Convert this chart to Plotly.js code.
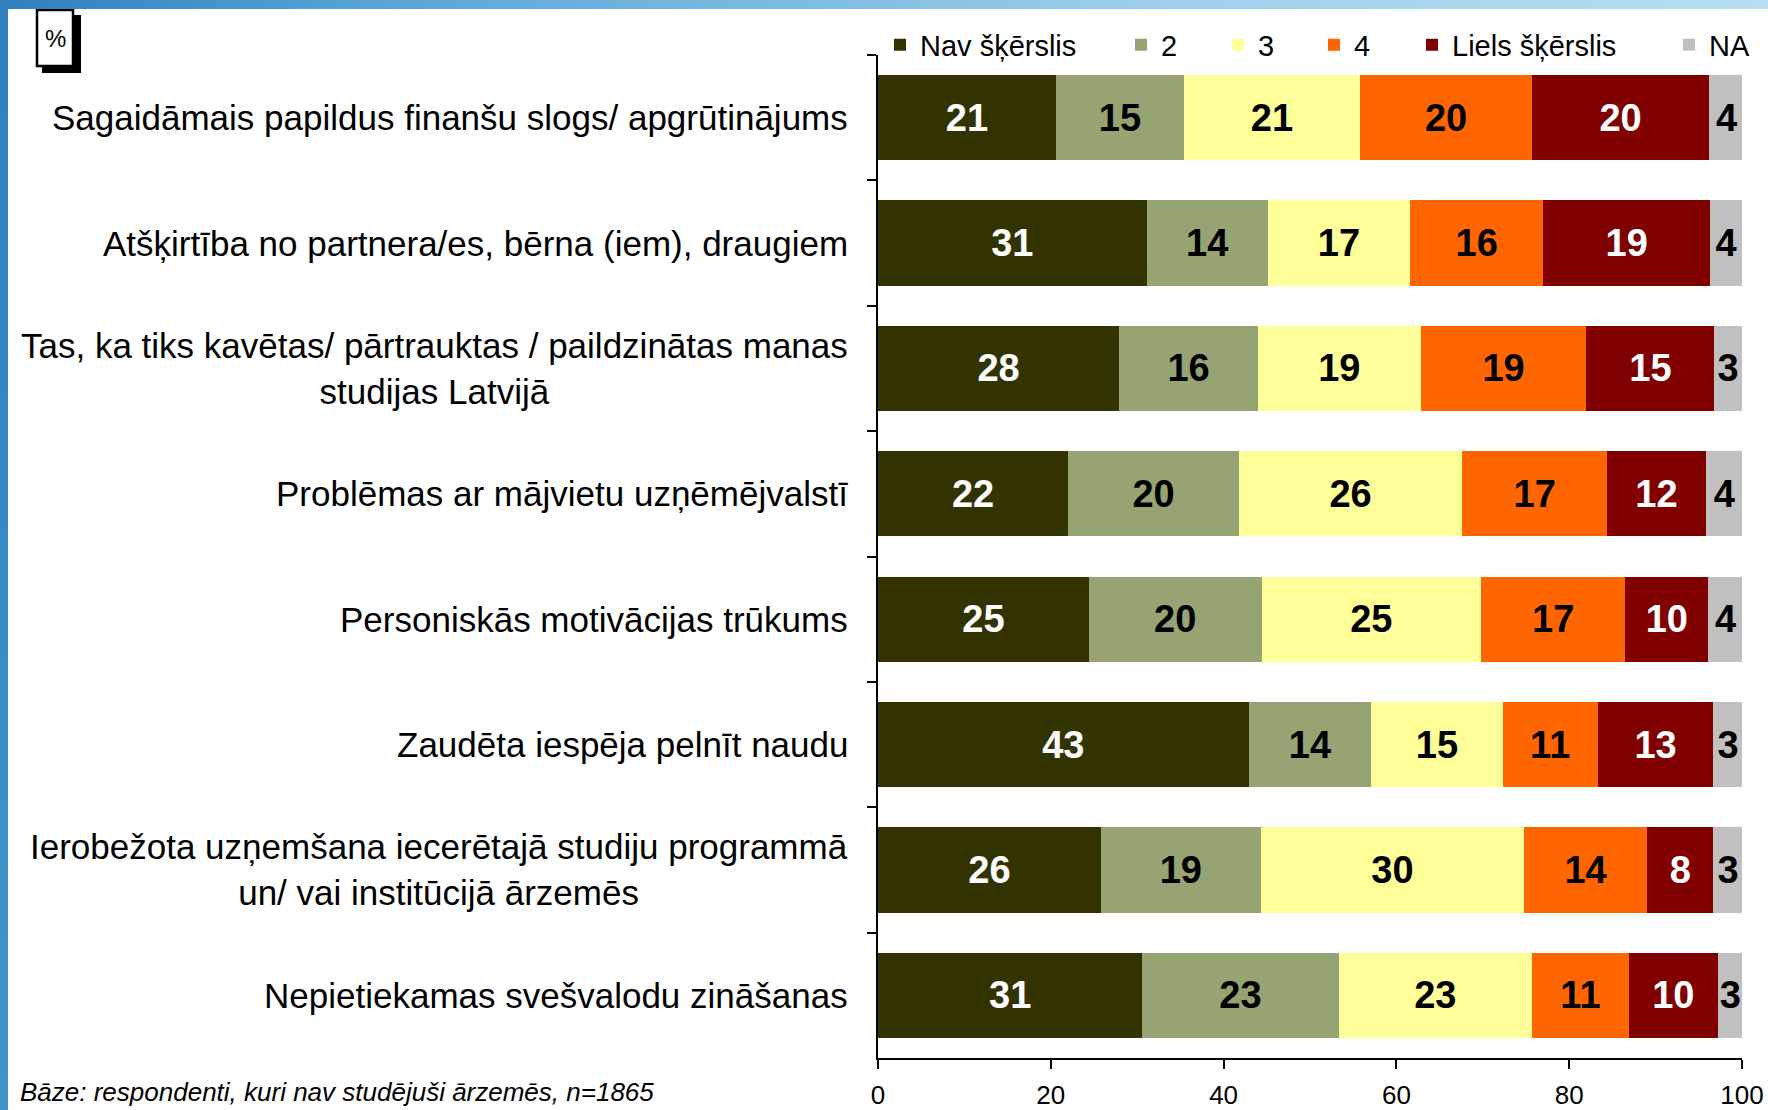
<!DOCTYPE html>
<html>
<head>
<meta charset="utf-8">
<script src="https://cdn.plot.ly/plotly-3.0.1.min.js"></script>
<style>
  html, body { margin: 0; padding: 0; }
  body {
    width: 1768px; height: 1110px; overflow: hidden; position: relative;
    background: linear-gradient(100deg, #2f7fbf 0%, #5aa6d8 20%, #9fd0ec 60%, #bfe2f4 100%);
  }
  #chart { position: absolute; left: 8px; top: 9px; width: 1760px; height: 1101px; background: #fff; }
</style>
</head>
<body>
<div id="chart"></div>
<script>
// ---- data ----
var categories = [
  "Sagaidāmais papildus finanšu slogs/ apgrūtinājums",
  "Atšķirtība no partnera/es, bērna (iem), draugiem",
  "Tas, ka tiks kavētas/ pārtrauktas / paildzinātas manas<br>studijas Latvijā",
  "Problēmas ar mājvietu uzņēmējvalstī",
  "Personiskās motivācijas trūkums",
  "Zaudēta iespēja pelnīt naudu",
  "Ierobežota uzņemšana iecerētajā studiju programmā<br>un/ vai institūcijā ārzemēs",
  "Nepietiekamas svešvalodu zināšanas"
];
var seriesNames = ["Nav šķērslis", "2", "3", "4", "Liels šķērslis", "NA"];
// segment widths (%)
var navSkerslis   = [20.6, 31.1, 27.9, 22.0, 24.4, 42.9, 25.8, 30.6];
var val2          = [14.8, 14.0, 16.1, 19.8, 20.0, 14.2, 18.5, 22.7];
var val3          = [20.4, 16.5, 18.8, 25.8, 25.4, 15.2, 30.5, 22.4];
var val4          = [19.9, 15.4, 19.2, 16.8, 16.7, 11.0, 14.2, 11.2];
var lielsSkerslis = [20.5, 19.3, 14.8, 11.4,  9.6, 13.4,  7.7, 10.3];
var valNA         = [ 4.0,  3.7,  3.2,  4.3,  4.0,  3.4,  3.4,  2.9];
// labels as printed on the bars
var lblNav   = [21, 31, 28, 22, 25, 43, 26, 31];
var lbl2     = [15, 14, 16, 20, 20, 14, 19, 23];
var lbl3     = [21, 17, 19, 26, 25, 15, 30, 23];
var lbl4     = [20, 16, 19, 17, 17, 11, 14, 11];
var lblLiels = [20, 19, 15, 12, 10, 13,  8, 10];
var lblNA    = [ 4,  4,  3,  4,  4,  3,  3,  3];
var xTicks = [0, 20, 40, 60, 80, 100];
var baseNote = "Bāze: respondenti, kuri nav studējuši ārzemēs, n=1865";

var colors = ["#333300", "#95A472", "#FFFF99", "#FF6600", "#800000", "#C0C0C0"];
var textColors = ["#ffffff", "#000000", "#000000", "#000000", "#ffffff", "#000000"];
var values = [navSkerslis, val2, val3, val4, lielsSkerslis, valNA];
var labels = [lblNav, lbl2, lbl3, lbl4, lblLiels, lblNA];

var NARROW = "'Liberation Sans Narrow', 'Arial Narrow', 'Liberation Sans', Arial, sans-serif";

// ---- geometry (px within the chart div) ----
var W = 1760, H = 1101;
var M = {l: 870, r: 26, t: 45, b: 52};
var PW = W - M.l - M.r, PH = H - M.t - M.b;
function px2x(p) { return (p - M.l) / PW; }
function px2y(p) { return (H - M.b - p) / PH; }

var legendNames = ["legend", "legend2", "legend3", "legend4", "legend5", "legend6"];
var legendTextStart = [912, 1153, 1250, 1346, 1444, 1701];

var traces = [];
for (var i = 0; i < 6; i++) {
  traces.push({
    type: "bar",
    orientation: "h",
    name: seriesNames[i],
    y: categories,
    x: values[i],
    text: labels[i].map(String),
    texttemplate: "%{text}",
    textposition: "inside",
    insidetextanchor: "middle",
    constraintext: "none",
    textangle: 0,
    textfont: {family: NARROW, size: 38, color: textColors[i], weight: "bold"},
    marker: {color: colors[i], line: {width: 0}},
    hoverinfo: "skip",
    legend: legendNames[i]
  });
}

var layout = {
  width: W, height: H,
  margin: M,
  paper_bgcolor: "#ffffff",
  plot_bgcolor: "#ffffff",
  barmode: "stack",
  bargap: 0.32,
  showlegend: true,
  font: {family: NARROW, color: "#000000"},
  xaxis: {
    range: [0, 100],
    tickvals: xTicks,
    ticktext: xTicks.map(String),
    ticks: "outside", ticklen: 9, tickwidth: 2, tickcolor: "#000",
    showline: true, linecolor: "#000", linewidth: 2,
    showgrid: false, zeroline: false,
    tickfont: {family: NARROW, size: 26, color: "#000"},
    ticklabelstandoff: 4,
    fixedrange: true
  },
  yaxis: {
    type: "category",
    autorange: "reversed",
    showticklabels: false,
    ticks: "outside", ticklen: 9, tickwidth: 2, tickcolor: "#000",
    tickson: "boundaries",
    showline: true, linecolor: "#000", linewidth: 2,
    showgrid: false, zeroline: false,
    fixedrange: true
  },
  annotations: [],
  shapes: [
    // % box shadow
    {type: "rect", xref: "paper", yref: "paper", layer: "above",
     x0: px2x(34), x1: px2x(73), y0: px2y(63), y1: px2y(5),
     fillcolor: "#000", line: {width: 0}},
    // % box
    {type: "rect", xref: "paper", yref: "paper", layer: "above",
     x0: px2x(29), x1: px2x(65), y0: px2y(56), y1: px2y(0),
     fillcolor: "#fff", line: {color: "#000", width: 2.5}}
  ]
};

// category labels, right-aligned block with centred lines
categories.forEach(function (c) {
  layout.annotations.push({
    xref: "paper", yref: "y", x: px2x(842), y: c,
    xanchor: "right", yanchor: "middle", align: "center",
    text: c, showarrow: false,
    font: {family: NARROW, size: 35, color: "#000"}
  });
});
// % label
layout.annotations.push({
  xref: "paper", yref: "paper", x: px2x(47), y: px2y(28),
  xanchor: "center", yanchor: "middle", text: "%", showarrow: false,
  font: {family: "'Liberation Sans', Arial, sans-serif", size: 24, color: "#000"}
});
// base note
layout.annotations.push({
  xref: "paper", yref: "paper", x: px2x(10), y: px2y(1066),
  xanchor: "left", yanchor: "top", text: baseNote, showarrow: false,
  font: {family: "'Liberation Sans', Arial, sans-serif", size: 26, color: "#000", style: "italic"}
});

// individual legends positioned like the original row of keys
for (var k = 0; k < 6; k++) {
  layout[legendNames[k]] = {
    orientation: "h",
    x: px2x(legendTextStart[k] - 40), xanchor: "left",
    y: px2y(36), yanchor: "middle",
    bgcolor: "rgba(0,0,0,0)", borderwidth: 0,
    font: {family: NARROW, size: 29, color: "#000"},
    itemclick: false, itemdoubleclick: false
  };
}

Plotly.newPlot("chart", traces, layout, {displayModeBar: false, staticPlot: true});
</script>
</body>
</html>
